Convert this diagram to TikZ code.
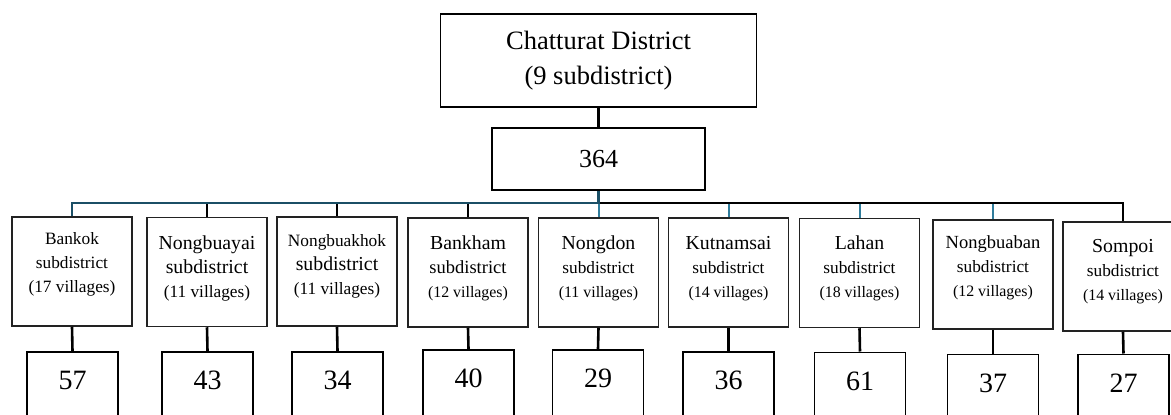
\documentclass[tikz,border=0pt]{standalone}
\usepackage{fontspec}
\setmainfont{Liberation Serif}
\usepackage{tikz}
\definecolor{busteal}{HTML}{1B4F66}
\definecolor{dropteal}{HTML}{2F7C9B}
\definecolor{boxgray}{HTML}{222222}
\newcommand{\txtsmall}{\fontsize{17.3}{24}\selectfont}
\newcommand{\txtbig}{\fontsize{19.8}{24.5}\selectfont}
\newcommand{\txtmid}{\fontsize{18.5}{24}\selectfont}
\newcommand{\txttiny}{\fontsize{15.9}{23.5}\selectfont}
\tikzstyle{district} = [rectangle,minimum width=316pt,minimum height=93pt,align=center,draw=black,line width=1.5pt,font=\fontsize{26.5}{35}\selectfont]
\tikzstyle{total} = [rectangle,minimum width=213pt,minimum height=62pt,draw=black,line width=1.5pt,font=\fontsize{26}{30}\selectfont]
\tikzstyle{subbox} = [rectangle,minimum width=120pt,minimum height=109pt,draw=boxgray,line width=1.5pt]
\tikzstyle{subtext} = [align=center,inner sep=0pt,font=\txtsmall]
\tikzstyle{count} = [rectangle,anchor=north,minimum width=91pt,minimum height=80pt,text height=18pt,text depth=22pt,draw=black,line width=1.5pt,font=\fontsize{28}{32}\selectfont]
\tikzstyle{line} = [line width=2.6pt]
\tikzstyle{busline} = [line width=2.6pt,draw=busteal]
\tikzstyle{dropline} = [line width=2pt,draw=dropteal]

\begin{document}
\begin{tikzpicture}[x=1pt,y=-1pt]
\useasboundingbox (0,0) rectangle (1171,415);
\node (district) [district] at (598.5,60.5) {Chatturat District\\(9 subdistrict)};
\node (total) [total] at (598.5,159) {364};

\node (bankok) [subbox] at (72,271.5) {};
\node (nongbuayai) [subbox] at (207,272) {};
\node (nongbuakhok) [subbox] at (337,271.5) {};
\node (bankham) [subbox] at (468,272.5) {};
\node (nongdon) [subbox] at (598.5,272.5) {};
\node (kutnamsai) [subbox] at (728.5,272.5) {};
\node (lahan) [subbox] at (859.5,273) {};
\node (nongbuaban) [subbox] at (993,274.5) {};
\node (sompoi) [subbox] at (1123,276.5) {};

\node (bankok-t) [subtext] at ([yshift=-48pt]bankok.north) {Bankok\\subdistrict\\(17 villages)};
\node (nongbuayai-t) [subtext] at ([yshift=-52pt]nongbuayai.north) {{\txtbig Nongbuayai}\\{\txtbig subdistrict}\\(11 villages)};
\node (nongbuakhok-t) [subtext] at ([yshift=-50pt]nongbuakhok.north) {Nongbuakhok\\{\txtbig subdistrict}\\(11 villages)};
\node (bankham-t) [subtext] at ([yshift=-51pt]bankham.north) {{\txtbig Bankham}\\{\txtmid subdistrict}\\{\txttiny (12 villages)}};
\node (nongdon-t) [subtext] at ([yshift=-51pt]nongdon.north) {{\txtbig Nongdon}\\subdistrict\\{\txttiny (11 villages)}};
\node (kutnamsai-t) [subtext] at ([yshift=-51pt]kutnamsai.north) {{\txtbig Kutnamsai}\\subdistrict\\{\txttiny (14 villages)}};
\node (lahan-t) [subtext] at ([yshift=-51pt]lahan.north) {{\txtbig Lahan}\\subdistrict\\{\txttiny (18 villages)}};
\node (nongbuaban-t) [subtext] at ([yshift=-49pt]nongbuaban.north) {{\txtmid Nongbuaban}\\subdistrict\\{\txttiny (12 villages)}};
\node (sompoi-t) [subtext] at ([yshift=-50pt]sompoi.north) {{\txtbig Sompoi}\\subdistrict\\{\txttiny (14 villages)}};

\node (bankok-n) [count] at (72.5,351) {57};
\node (nongbuayai-n) [count] at (207.5,351) {43};
\node (nongbuakhok-n) [count] at (337.5,351) {34};
\node (bankham-n) [count] at (468.5,349) {40};
\node (nongdon-n) [count] at (598,349) {29};
\node (kutnamsai-n) [count] at (728.5,351) {36};
\node (lahan-n) [count] at (860,351.5) {61};
\node (nongbuaban-n) [count] at (993,353.5) {37};
\node (sompoi-n) [count] at (1123.5,353.5) {27};

\coordinate (bus) at (598.5,203);
\draw [line] (district) -- (total);
\draw [line] (nongbuayai.north) -- (nongbuayai.north |- bus);
\draw [line] (nongbuakhok.north) -- (nongbuakhok.north |- bus);
\draw [line] (bankham.north) -- (bankham.north |- bus);
\draw [dropline] (bus) -- (nongdon.north);
\draw [dropline] (kutnamsai.north) -- (kutnamsai.north |- bus);
\draw [dropline] (lahan.north) -- (lahan.north |- bus);
\draw [dropline] (nongbuaban.north) -- (nongbuaban.north |- bus);
\draw [line] (bus) -| (sompoi.north);
\draw [busline] (total) -- (bus) -| (bankok.north);

\draw [line] (bankok.south) -- (bankok-n.north);
\draw [line] (nongbuayai.south) -- (nongbuayai-n.north);
\draw [line] (nongbuakhok.south) -- (nongbuakhok-n.north);
\draw [line] (bankham.south) -- (bankham-n.north);
\draw [line] (nongdon.south) -- (nongdon-n.north);
\draw [line] (kutnamsai.south) -- (kutnamsai-n.north);
\draw [line] (lahan.south) -- (lahan-n.north);
\draw [line] (nongbuaban.south) -- (nongbuaban-n.north);
\draw [line] (sompoi.south) -- (sompoi-n.north);
\end{tikzpicture}
\end{document}
